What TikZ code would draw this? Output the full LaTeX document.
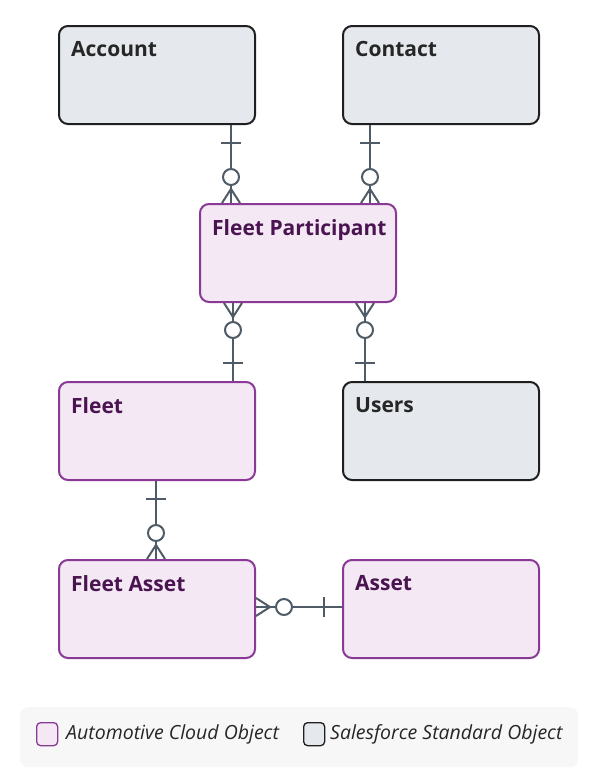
\documentclass[tikz,border=0pt]{standalone}
\usepackage{fontspec}
\setmainfont{Open Sans}
\begin{document}
\begin{tikzpicture}[x=1pt,y=-1pt,
 std/.style={draw=black!88,line width=2pt,fill={rgb,255:red,229;green,232;blue,236},rounded corners=9pt,minimum width=196pt,minimum height=98pt,anchor=north west},
 auto/.style={draw={rgb,255:red,138;green,58;blue,150},line width=2pt,fill={rgb,255:red,243;green,232;blue,244},rounded corners=9pt,minimum width=196pt,minimum height=98pt,anchor=north west},
 ttl/.style={anchor=north west,font=\fontsize{21}{24}\selectfont\bfseries,inner sep=0pt},
 con/.style={draw={rgb,255:red,79;green,91;blue,102},line width=2pt},
 circ/.style={con,fill=white}]
\useasboundingbox (0,0) rectangle (600,772);
\node[std] (acc) at (58,25) {};
\node[std] (con) at (342,25) {};
\node[auto] (fp) at (199,203) {};
\node[auto] (fl) at (58,381) {};
\node[std] (us) at (342,381) {};
\node[auto] (fa) at (58,559) {};
\node[auto] (as) at (342,559) {};
\node[ttl,text=black!85] at (71,41) {Account};
\node[ttl,text=black!85] at (355,41) {Contact};
\node[ttl,text={rgb,255:red,74;green,20;blue,80}] at (212,219) {Fleet Participant};
\node[ttl,text={rgb,255:red,74;green,20;blue,80}] at (71,397) {Fleet};
\node[ttl,text=black!85] at (355,397) {Users};
\node[ttl,text={rgb,255:red,74;green,20;blue,80}] at (71,575) {Fleet Asset};
\node[ttl,text={rgb,255:red,74;green,20;blue,80}] at (355,575) {Asset};
% vertical connectors: one at top, many at bottom
\foreach \x/\a/\b in {231/acc/fp,370/con/fp}{
 \draw[con] (\a.south -| \x,0) -- (\b.north -| \x,0);
 \draw[con] ([yshift=-18]\a.south -| \x-10,0) -- ([yshift=-18]\a.south -| \x+10,0);
 \draw[con] ([yshift=14]\b.north -| \x,0) -- (\b.north -| \x-9,0);
 \draw[con] ([yshift=14]\b.north -| \x,0) -- (\b.north -| \x+9,0);
 \draw[circ] ([yshift=26]\b.north -| \x,0) circle (8);
}
% many at top (fp), one at bottom
\foreach \x/\a/\b in {233/fp/fl,365/fp/us}{
 \draw[con] (\a.south -| \x,0) -- (\b.north -| \x,0);
 \draw[con] ([yshift=18]\b.north -| \x-10,0) -- ([yshift=18]\b.north -| \x+10,0);
 \draw[con] ([yshift=-14]\a.south -| \x,0) -- (\a.south -| \x-9,0);
 \draw[con] ([yshift=-14]\a.south -| \x,0) -- (\a.south -| \x+9,0);
 \draw[circ] ([yshift=-27]\a.south -| \x,0) circle (8);
}
% fleet -> fleet asset
\draw[con] (fl.south -| 156,0) -- (fa.north -| 156,0);
\draw[con] ([yshift=-18]fl.south -| 146,0) -- ([yshift=-18]fl.south -| 166,0);
\draw[con] ([yshift=14]fa.north -| 156,0) -- (fa.north -| 147,0);
\draw[con] ([yshift=14]fa.north -| 156,0) -- (fa.north -| 165,0);
\draw[circ] ([yshift=26]fa.north -| 156,0) circle (8);
% fleet asset -> asset (horizontal)
\draw[con] (fa.east |- 0,607) -- (as.west |- 0,607);
\draw[con] ([xshift=-18]as.west |- 0,597) -- ([xshift=-18]as.west |- 0,617);
\draw[con] ([xshift=14]fa.east |- 0,607) -- (fa.east |- 0,598);
\draw[con] ([xshift=14]fa.east |- 0,607) -- (fa.east |- 0,616);
\draw[circ] ([xshift=28]fa.east |- 0,607) circle (8);
% legend
\node[fill=black!3,rounded corners=8pt,minimum width=558pt,minimum height=60pt,anchor=north west,inner sep=0pt] (leg) at (20,707) {};
\node[auto,line width=1.3pt,rounded corners=4pt,minimum width=21pt,minimum height=23pt] (l1) at (36,722) {};
\node[std,line width=1.3pt,rounded corners=4pt,minimum width=21pt,minimum height=23pt] (l2) at (303,722) {};
\node[anchor=west,inner sep=0pt,font=\fontsize{19.5}{22}\selectfont\itshape,text=black!85] (t1) at (66,734) {Automotive Cloud Object};
\node[anchor=west,inner sep=0pt,font=\fontsize{19.5}{22}\selectfont\itshape,text=black!85] (t2) at (330,734) {Salesforce Standard Object};
\end{tikzpicture}
\end{document}
